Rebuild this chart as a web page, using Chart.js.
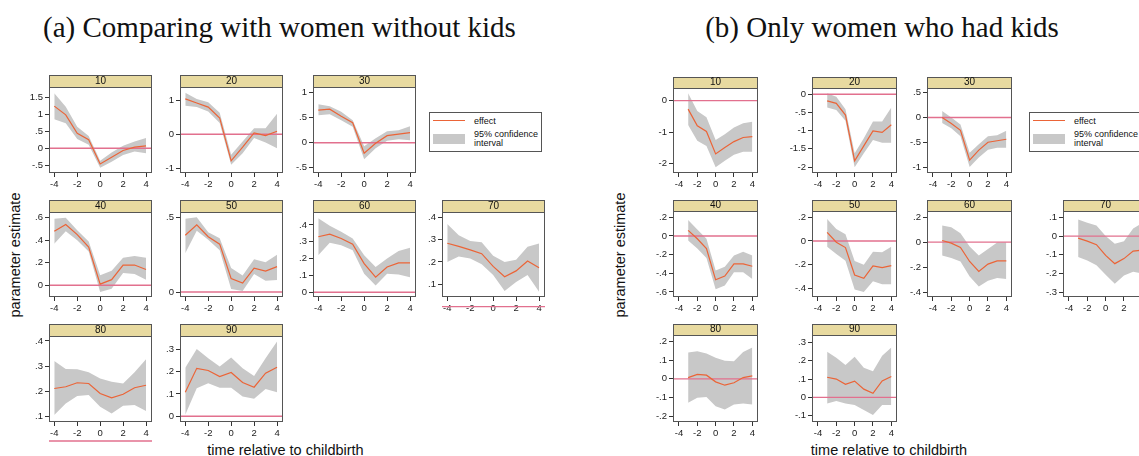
<!DOCTYPE html>
<html><head><meta charset="utf-8">
<script src="https://cdn.jsdelivr.net/npm/chart.js@4.4.0/dist/chart.umd.min.js"></script>
<style>
html,body{margin:0;padding:0;background:#fff;width:1139px;height:456px;overflow:hidden;position:relative;}
canvas{position:absolute;}
.t{position:absolute;font-family:'Liberation Serif','Times New Roman',serif;font-size:29px;white-space:nowrap;color:#111;line-height:1;transform:translate(-50%,-50%);}
.lab{position:absolute;font-family:'Liberation Sans',Arial,sans-serif;font-size:14.5px;white-space:nowrap;color:#111;line-height:1;}
.leg{position:absolute;border:1px solid #555;background:#fff;font-family:'Liberation Sans',Arial,sans-serif;font-size:9px;color:#111;line-height:9px;}
.leg div{position:absolute;white-space:nowrap;}
.leg .ln{border-top:1.5px solid rgb(235,100,55);height:0;width:32px;}
</style></head><body>
<div class="t" style="left:279.5px;top:27px;">(a) Comparing with women without kids</div>
<div class="t" style="left:882px;top:27px;">(b) Only women who had kids</div>
<div class="lab" style="left:15px;top:255px;transform:translate(-50%,-50%) rotate(-90deg);">parameter estimate</div>
<div class="lab" style="left:620px;top:255px;transform:translate(-50%,-50%) rotate(-90deg);">parameter estimate</div>
<div class="lab" style="left:285.5px;top:450px;transform:translate(-50%,-50%);">time relative to childbirth</div>
<div class="lab" style="left:889px;top:450px;transform:translate(-50%,-50%);">time relative to childbirth</div>
<div class="leg" style="left:429px;top:112px;width:111px;height:38px;">
  <div class="ln" style="left:3px;top:7px;"></div>
  <div style="left:44px;top:4px;">effect</div>
  <div style="left:3px;top:21px;width:32px;height:10px;background:rgb(200,200,200);"></div>
  <div style="left:44px;top:17px;">95% confidence<br>interval</div>
</div>
<div class="leg" style="left:1029px;top:112px;width:111px;height:38px;">
  <div class="ln" style="left:3px;top:7px;"></div>
  <div style="left:44px;top:4px;">effect</div>
  <div style="left:3px;top:21px;width:32px;height:10px;background:rgb(200,200,200);"></div>
  <div style="left:44px;top:17px;">95% confidence<br>interval</div>
</div>
<script>
// ---------------- DATA ----------------
const xA = [-4,-3,-2,-1,0,1,2,3,4];
const xB = [-3,-2,-1,0,1,2,3,4];
const xTicks = [-4,-2,0,2,4];
const groupLabels = ['10','20','30','40','50','60','70','80','90'];

// (a) Comparing with women without kids
const effA10 = [1.25, 0.99, 0.44, 0.25, -0.47, -0.27, -0.07, 0.03, 0.07];
const hiA10  = [1.63, 1.23, 0.64, 0.36, -0.37, -0.13, 0.07, 0.20, 0.30];
const loA10  = [0.86, 0.74, 0.27, 0.10, -0.58, -0.40, -0.20, -0.10, -0.15];
const effA20 = [1.04, 0.92, 0.80, 0.48, -0.78, -0.38, 0.04, -0.04, 0.09];
const hiA20  = [1.22, 1.04, 0.94, 0.63, -0.60, -0.21, 0.18, 0.18, 0.60];
const loA20  = [0.84, 0.80, 0.67, 0.33, -0.90, -0.56, -0.11, -0.24, -0.41];
const effA30 = [0.65, 0.67, 0.53, 0.40, -0.21, -0.01, 0.14, 0.17, 0.20];
const hiA30  = [0.77, 0.73, 0.62, 0.45, -0.07, 0.09, 0.23, 0.25, 0.33];
const loA30  = [0.55, 0.57, 0.45, 0.32, -0.33, -0.11, 0.04, 0.07, 0.05];
const effA40 = [0.48, 0.54, 0.45, 0.34, 0.01, 0.05, 0.18, 0.18, 0.14];
const hiA40  = [0.59, 0.60, 0.49, 0.39, 0.09, 0.13, 0.245, 0.26, 0.245];
const loA40  = [0.37, 0.48, 0.40, 0.30, -0.06, -0.03, 0.11, 0.10, 0.05];
const effA50 = [0.38, 0.45, 0.37, 0.32, 0.09, 0.06, 0.16, 0.14, 0.17];
const hiA50  = [0.49, 0.50, 0.40, 0.36, 0.16, 0.11, 0.22, 0.20, 0.25];
const loA50  = [0.26, 0.41, 0.35, 0.28, 0.02, 0.007, 0.12, 0.075, 0.08];
const effA60 = [0.33, 0.345, 0.32, 0.285, 0.17, 0.09, 0.15, 0.175, 0.175];
const hiA60  = [0.44, 0.395, 0.36, 0.32, 0.22, 0.15, 0.20, 0.245, 0.265];
const loA60  = [0.22, 0.295, 0.28, 0.25, 0.11, 0.04, 0.11, 0.105, 0.09];
const effA70 = [0.284, 0.27, 0.254, 0.237, 0.18, 0.134, 0.16, 0.204, 0.174];
const hiA70  = [0.37, 0.32, 0.294, 0.288, 0.228, 0.20, 0.21, 0.268, 0.283];
const loA70  = [0.20, 0.224, 0.216, 0.19, 0.142, 0.07, 0.11, 0.142, 0.067];
const effA80 = [0.21, 0.217, 0.233, 0.23, 0.19, 0.173, 0.187, 0.213, 0.223];
const hiA80  = [0.32, 0.288, 0.287, 0.275, 0.25, 0.237, 0.23, 0.275, 0.327];
const loA80  = [0.104, 0.15, 0.18, 0.184, 0.137, 0.11, 0.141, 0.144, 0.12];
const effA90 = [0.108, 0.215, 0.205, 0.178, 0.196, 0.151, 0.13, 0.193, 0.22];
const hiA90  = [0.218, 0.302, 0.26, 0.223, 0.263, 0.215, 0.18, 0.26, 0.335];
const loA90  = [0.006, 0.125, 0.148, 0.128, 0.128, 0.088, 0.078, 0.122, 0.108];

// (b) Only women who had kids
const effB10 = [-0.27, -0.80, -0.98, -1.69, -1.49, -1.30, -1.17, -1.14];
const hiB10  = [0.23, -0.33, -0.53, -1.25, -1.07, -0.85, -0.72, -0.67];
const loB10  = [-0.77, -1.27, -1.44, -2.11, -1.91, -1.72, -1.62, -1.62];
const effB20 = [-0.18, -0.25, -0.57, -1.83, -1.42, -1.01, -1.05, -0.84];
const hiB20  = [0.03, -0.07, -0.41, -1.62, -1.21, -0.75, -0.75, -0.36];
const loB20  = [-0.36, -0.43, -0.73, -2.01, -1.62, -1.26, -1.33, -1.33];
const effB30 = [0.0, -0.12, -0.26, -0.86, -0.66, -0.50, -0.47, -0.44];
const hiB30  = [0.13, 0.0, -0.14, -0.71, -0.54, -0.38, -0.36, -0.27];
const loB30  = [-0.11, -0.22, -0.38, -1.0, -0.81, -0.65, -0.61, -0.61];
const effB40 = [0.06, -0.03, -0.135, -0.47, -0.43, -0.30, -0.30, -0.325];
const hiB40  = [0.17, 0.07, -0.03, -0.37, -0.33, -0.21, -0.17, -0.21];
const loB40  = [-0.05, -0.135, -0.235, -0.57, -0.53, -0.39, -0.39, -0.46];
const effB50 = [0.073, -0.01, -0.056, -0.287, -0.315, -0.21, -0.225, -0.208];
const hiB50  = [0.186, 0.10, 0.056, -0.17, -0.20, -0.09, -0.096, -0.048];
const loB50  = [-0.048, -0.11, -0.166, -0.41, -0.43, -0.34, -0.365, -0.365];
const effB60 = [0.013, -0.008, -0.043, -0.155, -0.235, -0.176, -0.15, -0.15];
const hiB60  = [0.133, 0.12, 0.072, -0.035, -0.107, -0.054, -0.003, 0.0];
const loB60  = [-0.107, -0.128, -0.155, -0.275, -0.355, -0.31, -0.288, -0.296];
const effB70 = [-0.011, -0.027, -0.046, -0.103, -0.147, -0.12, -0.08, -0.075];
const hiB70  = [0.089, 0.071, 0.057, 0.0, -0.041, -0.028, 0.04, 0.07];
const loB70  = [-0.112, -0.13, -0.156, -0.206, -0.254, -0.21, -0.19, -0.2];
const effB80 = [0.007, 0.024, 0.02, -0.016, -0.034, -0.021, 0.007, 0.016];
const hiB80  = [0.142, 0.149, 0.136, 0.113, 0.097, 0.095, 0.145, 0.169];
const loB80  = [-0.129, -0.102, -0.097, -0.147, -0.165, -0.138, -0.132, -0.138];
const effB90 = [0.11, 0.10, 0.071, 0.089, 0.045, 0.022, 0.09, 0.114];
const hiB90  = [0.249, 0.216, 0.176, 0.221, 0.161, 0.143, 0.227, 0.272];
const loB90  = [-0.033, -0.02, -0.033, -0.042, -0.069, -0.096, -0.042, -0.042];

// y tick labels
const yTicksA10 = [-0.5, 0, 0.5, 1, 1.5];
const yTicksA20 = [-1, 0, 1];
const yTicksA30 = [-0.5, 0, 0.5, 1];
const yTicksA40 = [0, 0.2, 0.4, 0.6];
const yTicksA50 = [0, 0.5];
const yTicksA60 = [0, 0.1, 0.2, 0.3, 0.4];
const yTicksA70 = [0.1, 0.2, 0.3, 0.4];
const yTicksA80 = [0.1, 0.2, 0.3, 0.4];
const yTicksA90 = [0, 0.1, 0.2, 0.3];
const yTicksB10 = [-2, -1, 0];
const yTicksB20 = [-2, -1.5, -1, -0.5, 0];
const yTicksB30 = [-1, -0.5, 0, 0.5];
const yTicksB40 = [-0.6, -0.4, -0.2, 0, 0.2];
const yTicksB50 = [-0.4, -0.2, 0, 0.2];
const yTicksB60 = [-0.4, -0.2, 0, 0.2];
const yTicksB70 = [-0.3, -0.2, -0.1, 0, 0.1];
const yTicksB80 = [-0.2, -0.1, 0, 0.1, 0.2];
const yTicksB90 = [-0.1, 0, 0.1, 0.2, 0.3];

// ---------------- LAYOUT / STYLE ----------------
const C_EFF = 'rgb(235,100,55)';
const C_CI = 'rgb(200,200,200)';
const C_ZERO = 'rgb(226,112,142)';
const C_HEAD = 'rgb(232,218,160)';
const C_FRAME = '#555';
const FONT = "'Liberation Sans', Arial, sans-serif";

const cells = [[0,0],[0,1],[0,2],[1,0],[1,1],[1,2],[1,3],[2,0],[2,1]];

const panelA = {
  x: xA, xMin: -4.46, xMax: 4.52,
  cols: [49, 180, 313, 442], boxW: 103,
  rows: [75, 200, 324], headH: 12, plotH: [86, 85, 86],
  yMin: [-0.737, -1.139, -0.606, -0.104, -0.033, -0.028, 0.043, 0.076, -0.026],
  yMax: [1.818, 1.39, 1.114, 0.651, 0.535, 0.477, 0.424, 0.42, 0.36],
  series: [
    [effA10, loA10, hiA10, yTicksA10], [effA20, loA20, hiA20, yTicksA20], [effA30, loA30, hiA30, yTicksA30],
    [effA40, loA40, hiA40, yTicksA40], [effA50, loA50, hiA50, yTicksA50], [effA60, loA60, hiA60, yTicksA60],
    [effA70, loA70, hiA70, yTicksA70], [effA80, loA80, hiA80, yTicksA80], [effA90, loA90, hiA90, yTicksA90]
  ]
};
const panelB = {
  x: xB, xMin: -4.65, xMax: 4.62,
  cols: [673, 812, 927, 1063], boxW: 85,
  rows: [77, 200, 324], headH: 11, plotH: [85, 86, 87],
  yMin: [-2.295, -2.165, -1.121, -0.654, -0.473, -0.44, -0.325, -0.232, -0.134],
  yMax: [0.40, 0.173, 0.595, 0.267, 0.253, 0.25, 0.134, 0.236, 0.34],
  series: [
    [effB10, loB10, hiB10, yTicksB10], [effB20, loB20, hiB20, yTicksB20], [effB30, loB30, hiB30, yTicksB30],
    [effB40, loB40, hiB40, yTicksB40], [effB50, loB50, hiB50, yTicksB50], [effB60, loB60, hiB60, yTicksB60],
    [effB70, loB70, hiB70, yTicksB70], [effB80, loB80, hiB80, yTicksB80], [effB90, loB90, hiB90, yTicksB90]
  ]
};

function fmt(v) {
  let s = (Math.round(v * 100) / 100).toString();
  if (s.startsWith('0.')) s = s.slice(1);
  else if (s.startsWith('-0.')) s = '-' + s.slice(2);
  return s;
}
function pts(xs, ys) { return xs.map((x, i) => ({x: x, y: ys[i]})); }

const framePlugin = {
  id: 'frame',
  beforeDraw(chart, args, opts) {
    const ctx = chart.ctx, a = chart.chartArea, h = opts.headH;
    ctx.save();
    ctx.fillStyle = C_HEAD;
    ctx.fillRect(a.left, a.top - h, a.right - a.left, h);
    ctx.strokeStyle = C_FRAME; ctx.lineWidth = 1;
    ctx.strokeRect(Math.round(a.left) + 0.5, Math.round(a.top - h) + 0.5, Math.round(a.right - a.left) - 1, Math.round(h));
    ctx.restore();
  },
  afterDatasetDraw(chart, args) {
    if (args.index !== 1) return;
    const ctx = chart.ctx, a = chart.chartArea;
    const y = chart.scales.y.getPixelForValue(0);
    ctx.save();
    ctx.strokeStyle = C_ZERO; ctx.lineWidth = 1.4;
    ctx.beginPath(); ctx.moveTo(a.left, y); ctx.lineTo(a.right, y); ctx.stroke();
    ctx.restore();
  },
  afterDraw(chart) {
    const ctx = chart.ctx, a = chart.chartArea;
    ctx.save();
    ctx.strokeStyle = C_FRAME; ctx.lineWidth = 1;
    ctx.strokeRect(Math.round(a.left) + 0.5, Math.round(a.top) + 0.5, Math.round(a.right - a.left) - 1, Math.round(a.bottom - a.top) - 1);
    ctx.restore();
  }
};

const LW = 34, BH = 22, PR = 3, PB = 8;

function buildPanel(P) {
  P.series.forEach((s, i) => {
    const [eff, lo, hi, yt] = s;
    const [r, c] = cells[i];
    const cv = document.createElement('canvas');
    const W = LW + P.boxW + PR;
    const H = P.headH + P.plotH[r] + BH + PB;
    cv.width = W; cv.height = H;
    cv.style.left = (P.cols[c] - LW) + 'px';
    cv.style.top = P.rows[r] + 'px';
    cv.style.width = W + 'px'; cv.style.height = H + 'px';
    document.body.appendChild(cv);
    new Chart(cv, {
      type: 'line',
      data: {
        datasets: [
          {data: pts(P.x, eff), borderColor: C_EFF, borderWidth: 1.2, pointRadius: 0, fill: false, tension: 0},
          {data: pts(P.x, lo), borderColor: 'rgba(0,0,0,0)', borderWidth: 0, pointRadius: 0, fill: false},
          {data: pts(P.x, hi), borderColor: 'rgba(0,0,0,0)', borderWidth: 0, pointRadius: 0, fill: '-1', backgroundColor: C_CI}
        ]
      },
      options: {
        responsive: false, animation: false, devicePixelRatio: 1, events: [],
        layout: {padding: {left: 0, top: 0, right: PR, bottom: PB}},
        plugins: {
          legend: {display: false}, tooltip: {enabled: false},
          title: {display: true, text: groupLabels[i], fullSize: false, padding: 0, color: '#111',
                  font: {family: FONT, size: 10, weight: 'normal', lineHeight: P.headH + 'px'}},
          frame: {headH: P.headH}
        },
        scales: {
          x: {
            type: 'linear', min: P.xMin, max: P.xMax,
            afterBuildTicks: sc => { sc.ticks = xTicks.map(v => ({value: v})); },
            afterFit: sc => { sc.height = BH; },
            grid: {display: true, drawOnChartArea: false, drawTicks: true, tickLength: 4, color: '#333', lineWidth: 1},
            border: {display: false},
            ticks: {font: {family: FONT, size: 9.5}, color: '#222', padding: 2, maxRotation: 0, autoSkip: false, callback: v => fmt(v)}
          },
          y: {
            type: 'linear', min: P.yMin[i], max: P.yMax[i],
            afterBuildTicks: sc => { sc.ticks = yt.map(v => ({value: v})); },
            afterFit: sc => { sc.width = LW; },
            grid: {display: true, drawOnChartArea: false, drawTicks: true, tickLength: 4, color: '#333', lineWidth: 1},
            border: {display: false},
            ticks: {font: {family: FONT, size: 9.5}, color: '#222', padding: 2, autoSkip: false, callback: v => fmt(v)}
          }
        }
      },
      plugins: [framePlugin]
    });
  });
}
buildPanel(panelA);
buildPanel(panelB);
</script>
</body></html>
